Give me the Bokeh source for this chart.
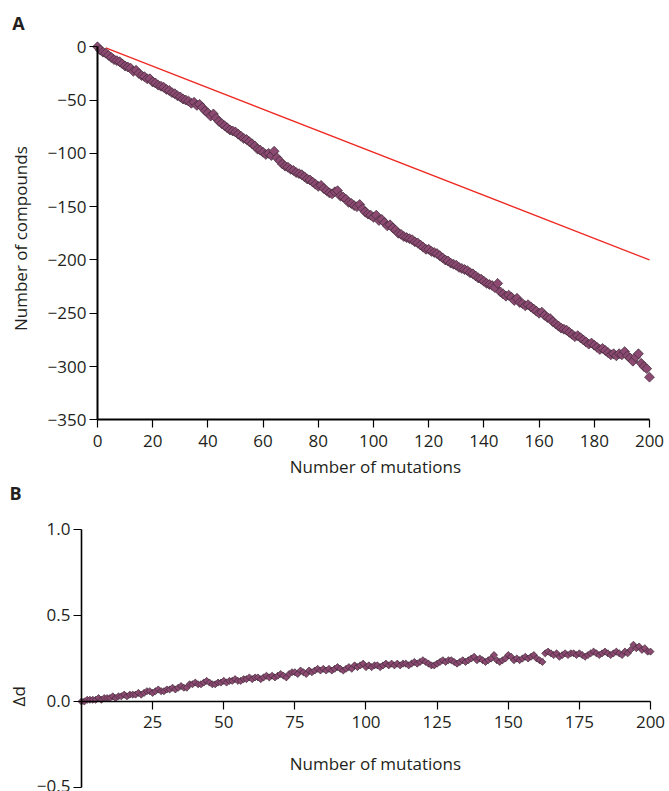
import math
from bokeh.plotting import figure
from bokeh.models import Range1d, FixedTicker, Label, LinearAxis
from bokeh.embed import file_html
from bokeh.resources import INLINE

# ---------------- data ----------------
mutations = list(range(0, 201))

compounds = [
    0, -3, -5, -6, -8, -10, -12, -13, -14, -16,
    -18, -19, -20, -23, -22, -25, -27, -28, -30, -30,
    -33, -34, -36, -37, -38, -40, -41, -43, -44, -46,
    -47, -49, -50, -51, -53, -52, -55, -54, -57, -60,
    -62, -65, -63, -67, -70, -72, -74, -76, -78, -79,
    -80, -82, -84, -86, -87, -89, -91, -93, -96, -97,
    -99, -101, -100, -102, -98, -104, -107, -110, -112, -113,
    -115, -116, -118, -119, -120, -122, -124, -125, -127, -129,
    -131, -130, -133, -135, -137, -138, -136, -135, -140, -141,
    -143, -146, -147, -149, -150, -148, -152, -155, -157, -158,
    -160, -158, -163, -162, -165, -168, -167, -170, -172, -175,
    -176, -178, -179, -180, -181, -183, -184, -186, -188, -190,
    -190, -192, -193, -194, -196, -198, -200, -201, -203, -204,
    -205, -207, -208, -209, -210, -212, -213, -215, -217, -218,
    -220, -222, -223, -224, -226, -222, -230, -232, -234, -233,
    -235, -238, -236, -240, -241, -243, -242, -244, -246, -248,
    -250, -249, -252, -254, -255, -258, -260, -262, -264, -265,
    -266, -268, -270, -272, -271, -273, -275, -277, -279, -278,
    -280, -282, -284, -283, -285, -287, -289, -288, -290, -288,
    -289, -286, -290, -292, -295, -291, -288, -297, -300, -302,
    -310,
]

delta_d = [
    0.00, 0.00, 0.01, 0.01, 0.01, 0.01, 0.02, 0.01, 0.02, 0.02,
    0.02, 0.03, 0.02, 0.03, 0.03, 0.04, 0.03, 0.04, 0.04, 0.04,
    0.05, 0.04, 0.05, 0.06, 0.06, 0.05, 0.06, 0.07, 0.06, 0.06,
    0.07, 0.07, 0.08, 0.07, 0.08, 0.09, 0.08, 0.08, 0.10, 0.10,
    0.11, 0.10, 0.10, 0.11, 0.12, 0.11, 0.10, 0.10, 0.11, 0.11,
    0.12, 0.11, 0.12, 0.12, 0.13, 0.12, 0.12, 0.13, 0.13, 0.14,
    0.13, 0.14, 0.14, 0.13, 0.14, 0.15, 0.14, 0.15, 0.14, 0.15,
    0.16, 0.15, 0.14, 0.16, 0.17, 0.17, 0.16, 0.18, 0.17, 0.16,
    0.18, 0.17, 0.18, 0.19, 0.18, 0.19, 0.18, 0.19, 0.18, 0.19,
    0.20, 0.19, 0.18, 0.19, 0.20, 0.19, 0.21, 0.20, 0.21, 0.22,
    0.20, 0.21, 0.20, 0.21, 0.21, 0.20, 0.21, 0.22, 0.21, 0.22,
    0.21, 0.22, 0.21, 0.22, 0.22, 0.21, 0.22, 0.23, 0.22, 0.23,
    0.24, 0.23, 0.22, 0.21, 0.21, 0.22, 0.23, 0.24, 0.23, 0.24,
    0.24, 0.23, 0.22, 0.23, 0.24, 0.23, 0.24, 0.25, 0.26, 0.24,
    0.25, 0.24, 0.23, 0.24, 0.25, 0.27, 0.24, 0.23, 0.24, 0.25,
    0.27, 0.26, 0.24, 0.25, 0.24, 0.25, 0.26, 0.25, 0.26, 0.27,
    0.25, 0.24, 0.23, 0.28, 0.29, 0.28, 0.27, 0.28, 0.26, 0.27,
    0.28, 0.27, 0.28, 0.28, 0.27, 0.28, 0.27, 0.26, 0.27, 0.28,
    0.29, 0.28, 0.27, 0.28, 0.29, 0.28, 0.27, 0.28, 0.29, 0.28,
    0.27, 0.29, 0.28, 0.30, 0.33, 0.31, 0.32, 0.30, 0.31, 0.29,
    0.29,
]

ref_line_x = [3, 200]
ref_line_y = [-1, -200]

a_xticks = [0, 20, 40, 60, 80, 100, 120, 140, 160, 180, 200]
a_yticks = [0, -50, -100, -150, -200, -250, -300, -350]
a_ylabels = ["0", "\u221250", "\u2212100", "\u2212150", "\u2212200", "\u2212250", "\u2212300", "\u2212350"]

b_xticks = [25, 50, 75, 100, 125, 150, 175, 200]
b_yticks = [-0.5, 0.0, 0.5, 1.0]
b_ylabels = ["\u22120.5", "0.0", "0.5", "1.0"]

# ---------------- style ----------------
FONT = "Open Sans"
TXT = "#231f20"
FILL = "#8c4a72"
EDGE = "#3b2633"
FS = "17px"

# One canvas holding both panels; each panel has its own pair of ranges
# (ranges chosen so that each panel lands in its own region of the canvas).
p = figure(width=669, height=791, frame_width=669, frame_height=791,
           x_range=Range1d(-35.14, 207.25), y_range=Range1d(-698.79, 43.45),
           x_axis_location=None, y_axis_location=None,
           output_backend="svg", toolbar_location=None,
           min_border=0)
p.extra_x_ranges = {"bx": Range1d(-28.47, 206.68)}
p.extra_y_ranges = {"by": Range1d(-0.5233, 4.0756)}
p.outline_line_color = None
p.xgrid.visible = False
p.ygrid.visible = False
p.background_fill_color = "white"
p.border_fill_color = "white"


def make_axis(cls_side, xr, yr, loc, ticks, bounds, width, overrides=None):
    ax = LinearAxis(x_range_name=xr, y_range_name=yr)
    ax.fixed_location = loc
    ax.ticker = FixedTicker(ticks=ticks)
    ax.bounds = bounds
    ax.axis_line_width = width
    ax.axis_line_color = "black"
    ax.major_tick_line_color = "black"
    ax.major_tick_line_width = 1.2
    ax.major_tick_in = 0
    ax.major_tick_out = 8
    ax.minor_tick_line_color = None
    ax.major_label_text_font = FONT
    ax.major_label_text_font_size = FS
    ax.major_label_text_color = TXT
    ax.major_label_standoff = 7 if cls_side == "below" else 3
    if overrides:
        ax.major_label_overrides = overrides
    p.add_layout(ax, cls_side)
    return ax


def add_text(text, x, y, xr, yr, size=FS, bold=False, angle=0.0):
    p.add_layout(Label(x=x, y=y, x_range_name=xr, y_range_name=yr, text=text,
                       text_font=FONT, text_font_size=size,
                       text_font_style="bold" if bold else "normal",
                       text_color=TXT, angle=angle,
                       text_align="center", text_baseline="middle"))


# ---------------- panel A ----------------
p.line(mutations, compounds, line_color="#dcc0ce", line_width=0.8)
p.line(ref_line_x, ref_line_y, line_color="#ee2a24", line_width=1.3)
p.scatter(mutations, compounds, marker="square", angle=math.pi / 4, size=7,
          fill_color=FILL, line_color=EDGE, line_width=0.7)

make_axis("below", "default", "default", -350, a_xticks, (0, 200), 2)
make_axis("left", "default", "default", 0, a_yticks, (-350, 0), 2,
          {t: s for t, s in zip(a_yticks, a_ylabels)})

add_text("A", -28.6, 22.3, "default", "default", size="18px", bold=True)
add_text("Number of compounds", -27.9, -180, "default", "default", angle=math.pi / 2)
add_text("Number of mutations", 100.7, -393.8, "default", "default")

# ---------------- panel B ----------------
p.line(mutations, delta_d, x_range_name="bx", y_range_name="by",
       line_color="#dcc0ce", line_width=0.8)
p.scatter(mutations, delta_d, x_range_name="bx", y_range_name="by",
          marker="square", angle=math.pi / 4, size=5,
          fill_color=FILL, line_color=EDGE, line_width=0.7)

make_axis("below", "bx", "by", 0, b_xticks, (0, 200), 1.6)
make_axis("left", "bx", "by", 0, b_yticks, (-0.5, 1.0), 1.6,
          {t: s for t, s in zip(b_yticks, b_ylabels)})

add_text("B", -23.2, 1.213, "bx", "by", size="18px", bold=True)
add_text("\u0394d", -21.97, 0.03, "bx", "by", angle=math.pi / 2)
add_text("Number of mutations", 103.3, -0.36, "bx", "by")

open("out.html", "w").write(file_html(p, INLINE))
